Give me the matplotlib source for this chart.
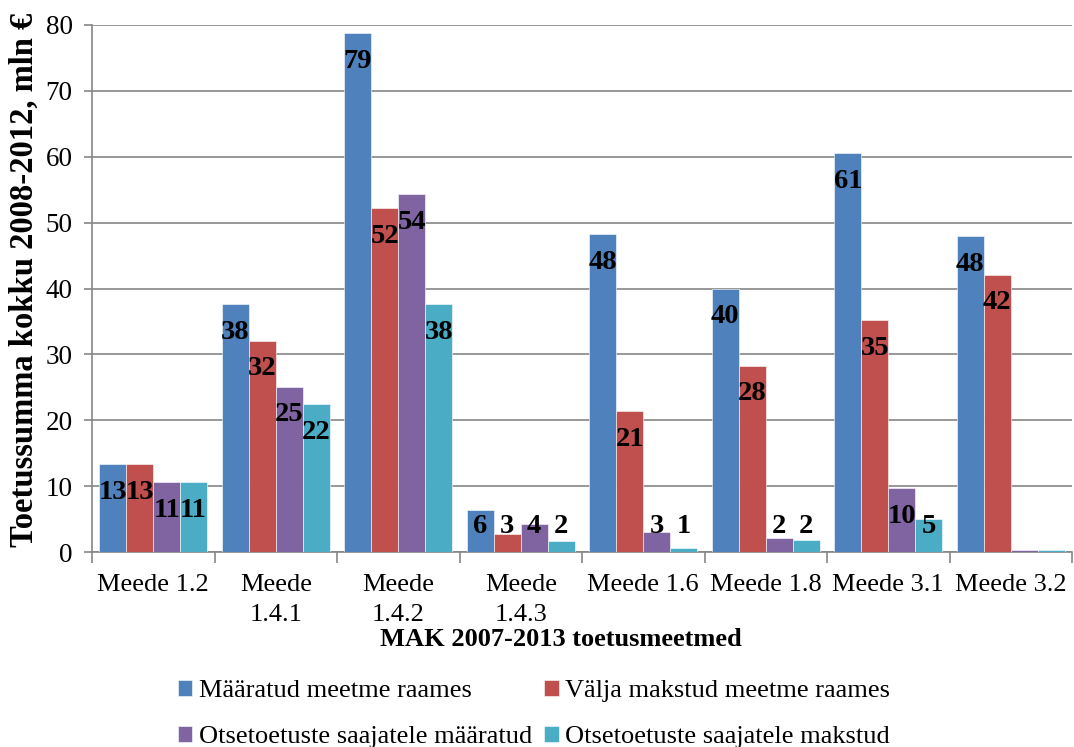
import matplotlib.pyplot as plt
import numpy as np

# ---------------- Data ----------------
categories = ["Meede 1.2", "Meede\n1.4.1", "Meede\n1.4.2", "Meede\n1.4.3",
              "Meede 1.6", "Meede 1.8", "Meede 3.1", "Meede 3.2"]

maaratud        = [13.4, 37.6, 78.8, 6.3, 48.3, 40.0, 60.6, 47.9]
valja_makstud   = [13.4, 32.1, 52.2, 2.7, 21.4, 28.3, 35.2, 42.1]
otse_maaratud   = [10.6, 25.1, 54.3, 4.2, 3.1, 2.2, 9.7, 0.3]
otse_makstud    = [10.6, 22.4, 37.6, 1.6, 0.6, 1.8, 5.0, 0.3]

series_names = ["Määratud meetme raames", "Välja makstud meetme raames",
                "Otsetoetuste saajatele määratud", "Otsetoetuste saajatele makstud"]
series = [maaratud, valja_makstud, otse_maaratud, otse_makstud]
colors = ["#4F81BD", "#C0504D", "#8064A2", "#4BACC6"]

# ---------------- Plot ----------------
plt.rcParams['font.family'] = ['Liberation Serif', 'DejaVu Serif']
fs = 19
grey = "#868686"

fig = plt.figure(figsize=(10.74, 7.47), dpi=100)
ax = fig.add_axes([92/1074, 195/747, 980/1074, 527/747])

x = np.arange(len(categories))
w = 0.22
handles = []
for i, (vals, col) in enumerate(zip(series, colors)):
    pos = x + (i - 1.5) * w
    b = ax.bar(pos, vals, width=w, color=col, edgecolor="white", linewidth=0.4, zorder=3)
    handles.append(b)
    for px_, v in zip(pos, vals):
        if v < 0.5:
            continue
        ypos = max(v - 4.3, 3.9)
        ax.text(px_, ypos, f"{v:.0f}", ha="center", va="center",
                fontsize=20.5, fontweight="bold", zorder=4)

ax.set_xlim(-0.5, len(categories) - 0.5)
ax.set_ylim(0, 80)
ax.set_yticks(np.arange(0, 81, 10))
ax.yaxis.grid(True, color=grey, linewidth=1.2, zorder=0)
ax.set_axisbelow(True)

ax.set_xticks(x)
ax.set_xticklabels(categories, fontsize=fs, linespacing=1.5, va="top")
ax.set_xticks(np.arange(-0.5, len(categories)), minor=True)
ax.tick_params(axis="x", which="major", length=0, pad=15.5)
ax.tick_params(axis="x", which="minor", length=8, color=grey, width=1.2)
ax.tick_params(axis="y", length=6, color=grey, width=1.2, labelsize=fs + 0.5, pad=8)

for s in ["top", "right"]:
    ax.spines[s].set_visible(False)
for s in ["left", "bottom"]:
    ax.spines[s].set_color(grey)
    ax.spines[s].set_linewidth(1.2)

ax.set_ylabel("Toetussumma kokku 2008-2012, mln €", fontsize=23.5,
              fontweight="bold")
ax.yaxis.set_label_coords(-52/980, 272/527)
ax.set_xlabel("MAK 2007-2013 toetusmeetmed", fontsize=fs, fontweight="bold")
ax.xaxis.set_label_coords(469/980, -76/527)

# legend fills column-wise, so order entries to read row by row
order = [0, 2, 1, 3]
fig.legend([handles[i] for i in order], [series_names[i] for i in order],
           ncol=2, loc="upper left",
           bbox_to_anchor=(170/1074, 1 - 672/747), frameon=False,
           fontsize=fs, handlelength=0.55, handleheight=0.55, handletextpad=0.25,
           columnspacing=0.45, labelspacing=0.9, borderaxespad=0, borderpad=0.3)

fig.savefig("out.png", dpi=100)
